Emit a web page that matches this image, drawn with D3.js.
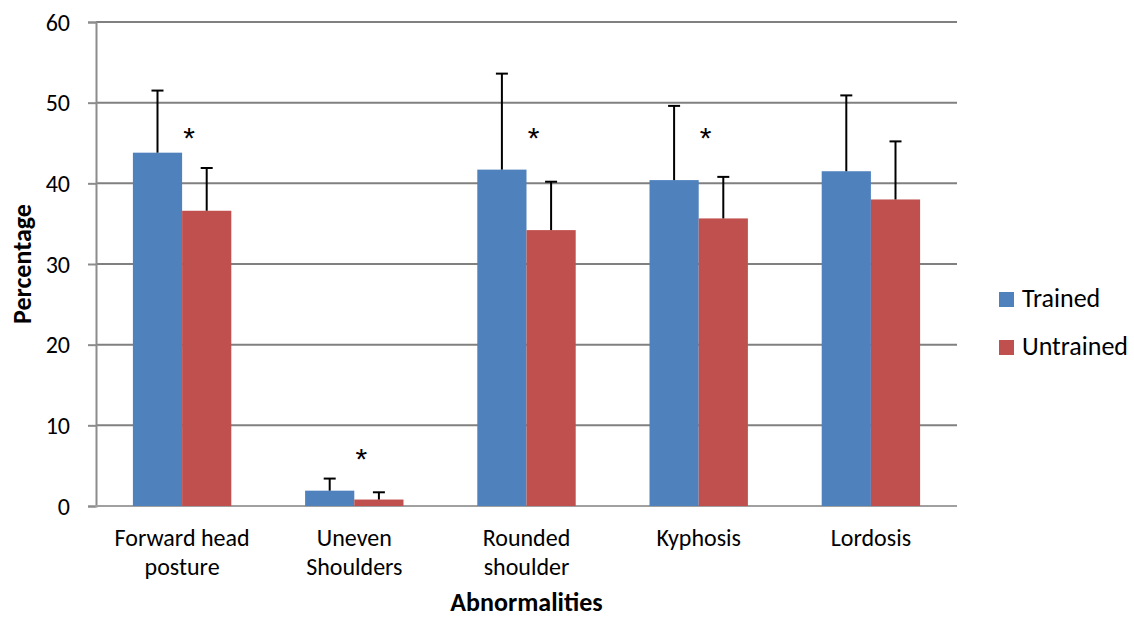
<!DOCTYPE html>
<html>
<head>
<meta charset="utf-8">
<script src="https://cdn.jsdelivr.net/npm/d3@7"></script>
<style>
  body { margin: 0; background: #fff; }
  text { font-family: Carlito, "Liberation Sans Narrow", "Open Sans", sans-serif; fill: #000; }
</style>
</head>
<body>
<div id="chart"></div>
<script>
// Chart values
const categories = [["Forward head", "posture"], ["Uneven", "Shoulders"], ["Rounded", "shoulder"], ["Kyphosis"], ["Lordosis"]];
const seriesNames = ["Trained", "Untrained"];
const trained = [43.8, 1.9, 41.7, 40.4, 41.5];
const trainedErr = [7.7, 1.5, 11.9, 9.2, 9.4];
const untrained = [36.6, 0.8, 34.2, 35.65, 38.0];
const untrainedErr = [5.3, 0.9, 6.0, 5.15, 7.2];
const starLevel = [46.5, 6.7, 46.5, 46.5, null];
const yTicks = [0, 10, 20, 30, 40, 50, 60];

const colors = ["#4F81BD", "#C0504D"];
const width = 1134, height = 617;
const margin = {top: 22, right: 177, bottom: 111, left: 96};

const svg = d3.select("#chart").append("svg")
    .attr("width", width)
    .attr("height", height);

const x = d3.scaleBand()
    .domain(d3.range(categories.length))
    .range([margin.left, width - margin.right]);

const y = d3.scaleLinear()
    .domain([0, 60])
    .range([height - margin.bottom, margin.top]);

// bar width is ~57% of the band (Excel gap width 150%)
const barW = x.bandwidth() / 3.5;
const xs = d3.scaleBand()
    .domain([0, 1])
    .range([0, barW * 2]);

// Gridlines
svg.append("g")
  .selectAll("line")
  .data(yTicks.filter(d => d > 0))
  .join("line")
    .attr("x1", margin.left)
    .attr("x2", width - margin.right)
    .attr("y1", d => y(d))
    .attr("y2", d => y(d))
    .attr("stroke", "#808080")
    .attr("stroke-width", 2);

// Y axis
const yAxis = svg.append("g")
    .attr("transform", `translate(${margin.left},0)`)
    .call(d3.axisLeft(y).tickValues(yTicks).tickSize(8).tickPadding(18));
yAxis.select(".domain").attr("stroke", "#8c8c8c").attr("stroke-width", 2);
yAxis.selectAll(".tick line").attr("stroke", "#8c8c8c").attr("stroke-width", 2);
yAxis.selectAll(".tick text").attr("font-size", 24).attr("dy", "0.34em");

// Bottom baseline
svg.append("line")
    .attr("x1", margin.left - 1)
    .attr("x2", width - margin.right)
    .attr("y1", y(0))
    .attr("y2", y(0))
    .attr("stroke", "#a0a0a0")
    .attr("stroke-width", 2);

// Bars
const rows = [];
categories.forEach((c, i) => {
  rows.push({cat: i, s: 0, v: trained[i], e: trainedErr[i]});
  rows.push({cat: i, s: 1, v: untrained[i], e: untrainedErr[i]});
});

const bx = d => x(d.cat) + (x.bandwidth() - barW * 2) / 2 + xs(d.s);

svg.append("g")
  .selectAll("rect")
  .data(rows)
  .join("rect")
    .attr("x", bx)
    .attr("y", d => y(d.v))
    .attr("width", xs.bandwidth())
    .attr("height", d => y(0) - y(d.v))
    .attr("fill", d => colors[d.s]);

// Error bars (upper only)
const err = svg.append("g")
    .attr("stroke", "#000")
    .attr("stroke-width", 2);

err.selectAll("line.stem")
  .data(rows)
  .join("line")
    .attr("class", "stem")
    .attr("x1", d => bx(d) + xs.bandwidth() / 2)
    .attr("x2", d => bx(d) + xs.bandwidth() / 2)
    .attr("y1", d => y(d.v))
    .attr("y2", d => y(d.v + d.e));

err.selectAll("line.cap")
  .data(rows)
  .join("line")
    .attr("class", "cap")
    .attr("x1", d => bx(d) + xs.bandwidth() / 2 - 6)
    .attr("x2", d => bx(d) + xs.bandwidth() / 2 + 6)
    .attr("y1", d => y(d.v + d.e))
    .attr("y2", d => y(d.v + d.e));

// Significance asterisks
svg.append("g")
  .selectAll("text")
  .data(starLevel.map((v, i) => ({v, i})).filter(d => d.v !== null))
  .join("text")
    .attr("x", d => x(d.i) + x.bandwidth() / 2 + 7)
    .attr("y", d => y(d.v) + 17)
    .attr("text-anchor", "middle")
    .attr("font-size", 30)
    .style("font-family", "'Liberation Sans', sans-serif")
    .text("*");

// Category labels
const catLabels = svg.append("g")
  .selectAll("text")
  .data(categories)
  .join("text")
    .attr("x", (d, i) => x(i) + x.bandwidth() / 2)
    .attr("y", 546)
    .attr("text-anchor", "middle")
    .attr("font-size", 24);
catLabels.selectAll("tspan")
  .data(d => d)
  .join("tspan")
    .attr("x", function() { return this.parentNode.getAttribute("x"); })
    .attr("dy", (d, i) => i ? 29 : 0)
    .text(d => d);

// Axis titles
svg.append("text")
    .attr("x", (margin.left + width - margin.right) / 2)
    .attr("y", 611)
    .attr("text-anchor", "middle")
    .attr("font-size", 26)
    .attr("font-weight", "bold")
    .text("Abnormalities");

svg.append("text")
    .attr("transform", `translate(31,${(margin.top + height - margin.bottom) / 2}) rotate(-90)`)
    .attr("text-anchor", "middle")
    .attr("font-size", 26)
    .attr("font-weight", "bold")
    .text("Percentage");

// Legend
const legend = svg.append("g")
  .selectAll("g")
  .data(seriesNames)
  .join("g")
    .attr("transform", (d, i) => `translate(999,${292 + i * 48})`);
legend.append("rect")
    .attr("width", 15)
    .attr("height", 15)
    .attr("fill", (d, i) => colors[i]);
legend.append("text")
    .attr("x", 23)
    .attr("y", 15)
    .attr("font-size", 26)
    .text(d => d);
</script>
</body>
</html>
